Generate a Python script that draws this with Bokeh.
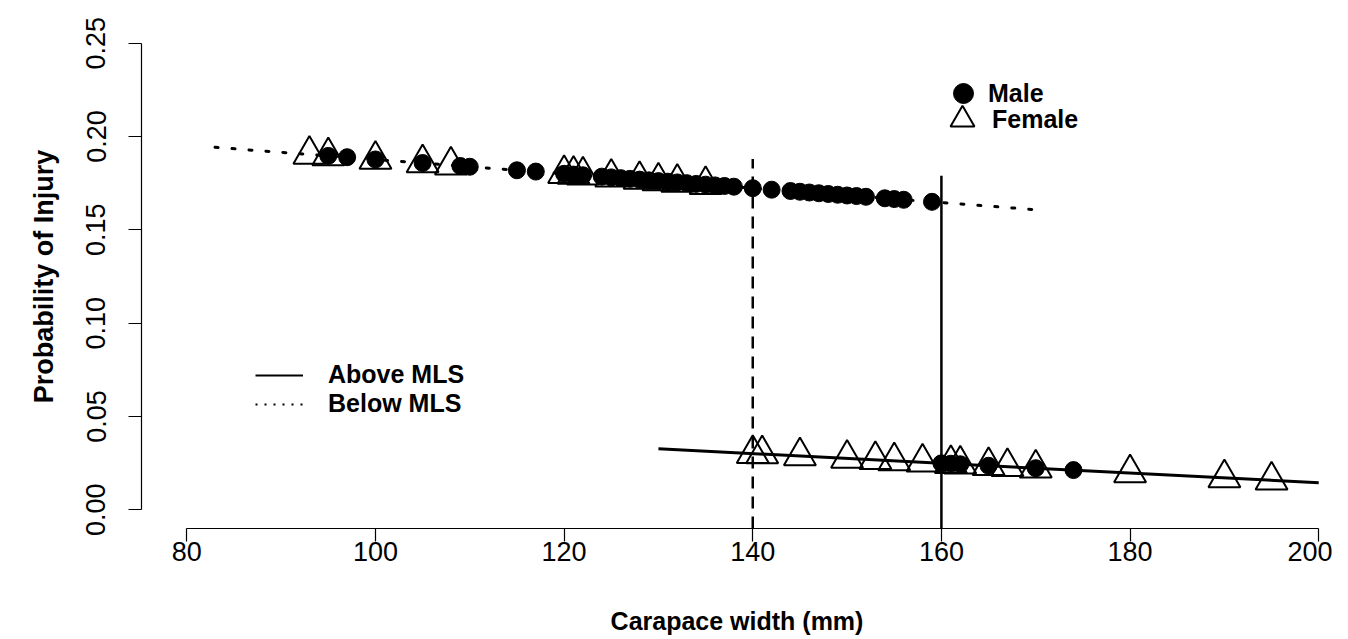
from bokeh.plotting import figure
from bokeh.models import Range1d, FixedTicker, Legend, LegendItem
from bokeh.embed import file_html
from bokeh.resources import INLINE

# ---------------- data ----------------
below_line_x = [83, 171]
below_line_y = [0.1942, 0.1604]
above_line_x = [130, 200]
above_line_y = [0.0327, 0.0145]

male_below_x = [95, 97, 100, 105, 109, 110, 115, 117, 120, 121, 122, 124, 125, 126,
                127, 128, 129, 130, 131, 132, 133, 134, 135, 136, 137, 138, 140, 142,
                144, 145, 146, 147, 148, 149, 150, 151, 152, 154, 155, 156, 159]
male_below_y = [0.1896, 0.1889, 0.1877, 0.1858, 0.1842, 0.1838, 0.1819, 0.1812, 0.1800,
                0.1796, 0.1792, 0.1785, 0.1781, 0.1777, 0.1773, 0.1769, 0.1765, 0.1761,
                0.1758, 0.1754, 0.1750, 0.1746, 0.1742, 0.1738, 0.1735, 0.1731, 0.1723,
                0.1715, 0.1708, 0.1704, 0.1700, 0.1696, 0.1692, 0.1688, 0.1684, 0.1681,
                0.1677, 0.1669, 0.1665, 0.1661, 0.1650]
male_above_x = [160, 161, 162, 165, 170, 174]
male_above_y = [0.0249, 0.0247, 0.0244, 0.0236, 0.0223, 0.0213]

female_below_x = [93, 95, 100, 105, 108, 120, 121, 122, 125, 128, 130, 132, 135]
female_below_y = [0.1904, 0.1896, 0.1877, 0.1858, 0.1846, 0.1800, 0.1796, 0.1792,
                  0.1781, 0.1769, 0.1761, 0.1754, 0.1742]
female_above_x = [140, 141, 145, 150, 153, 155, 158, 161, 162, 165, 167, 170, 180, 190, 195]
female_above_y = [0.0301, 0.0299, 0.0288, 0.0275, 0.0268, 0.0262, 0.0255, 0.0247,
                  0.0244, 0.0236, 0.0231, 0.0223, 0.0197, 0.0171, 0.0159]

mls_x = [140, 160]
mls_top = [0.188, 0.179]

x_ticks = [80, 100, 120, 140, 160, 180, 200]
y_ticks = [0.0, 0.05, 0.10, 0.15, 0.20, 0.25]
y_tick_labels = ["0.00", "0.05", "0.10", "0.15", "0.20", "0.25"]

series_labels = ["Male", "Female"]
line_labels = ["Above MLS", "Below MLS"]

# ---------------- figure ----------------
p = figure(width=1332, height=639, output_backend="svg", toolbar_location=None,
           x_range=Range1d(75.2, 201.46), y_range=Range1d(-0.01, 0.26),
           min_border_left=141, min_border_right=0, min_border_top=24,
           min_border_bottom=111)
p.grid.visible = False
p.outline_line_color = None
p.background_fill_color = "white"
p.border_fill_color = "white"

FONT = "Liberation Sans"

for ax in (p.xaxis[0], p.yaxis[0]):
    ax.axis_line_color = "black"
    ax.axis_line_width = 1.2
    ax.major_tick_line_color = "black"
    ax.major_tick_line_width = 1.2
    ax.major_tick_out = 13
    ax.major_tick_in = 0
    ax.minor_tick_out = 0
    ax.minor_tick_in = 0
    ax.major_label_text_font = FONT
    ax.major_label_text_font_size = "27px"
    ax.major_label_text_color = "black"
    ax.axis_label_text_font = FONT
    ax.axis_label_text_font_style = "bold"
    ax.axis_label_text_color = "black"

xa = p.xaxis[0]
xa.ticker = FixedTicker(ticks=x_ticks, minor_ticks=[])
xa.bounds = (x_ticks[0], x_ticks[-1])
xa.axis_label = "Carapace width (mm)"
xa.axis_label_text_font_size = "25px"
xa.major_label_standoff = 0
xa.axis_label_standoff = 43

ya = p.yaxis[0]
ya.ticker = FixedTicker(ticks=y_ticks, minor_ticks=[])
ya.bounds = (y_ticks[0], y_ticks[-1])
ya.major_label_overrides = {t: l for t, l in zip(y_ticks, y_tick_labels)}
ya.major_label_orientation = "vertical"
ya.axis_label = "Probability of Injury"
ya.axis_label_text_font_size = "27px"
ya.major_label_standoff = 23
ya.axis_label_standoff = 25

# points
r_male = p.scatter(male_below_x + male_above_x, male_below_y + male_above_y,
                   marker="circle", size=17, fill_color="black", line_color="black")
r_female = p.scatter(female_below_x + female_above_x, female_below_y + female_above_y,
                     marker="triangle", size=32, fill_color=None, line_color="black",
                     line_width=2)

# fitted lines
p.line(below_line_x, below_line_y, line_color="black", line_width=3,
       line_dash="3 14", line_cap="round")
p.line(above_line_x, above_line_y, line_color="black", line_width=3)

# MLS verticals
p.segment(x0=[mls_x[0]], y0=[p.y_range.start], x1=[mls_x[0]], y1=[mls_top[0]],
          line_color="black", line_width=2.5, line_dash="12 8")
p.segment(x0=[mls_x[1]], y0=[p.y_range.start], x1=[mls_x[1]], y1=[mls_top[1]],
          line_color="black", line_width=2.5)

# hidden renderers that only supply the legend's line styles
r_leg_above = p.line(above_line_x, above_line_y, line_color="black", line_width=2,
                     visible=False)
r_leg_below = p.line(below_line_x, below_line_y, line_color="black", line_width=2,
                     line_dash="2 7", visible=False)

def make_legend(items, loc, gw, gh, lh, standoff):
    return Legend(items=items, location=loc, glyph_width=gw, glyph_height=gh,
                  label_height=lh, label_standoff=standoff, spacing=0, padding=0,
                  margin=0, border_line_color=None, background_fill_alpha=0,
                  inactive_fill_alpha=0, click_policy="none",
                  label_text_font=FONT, label_text_font_style="bold",
                  label_text_font_size="25px", label_text_color="black")

p.add_layout(make_legend([LegendItem(label=series_labels[0], renderers=[r_male])],
                         (797, 410), 50, 50, 50, 0))
p.add_layout(make_legend([LegendItem(label=series_labels[1], renderers=[r_female])],
                         (791, 379), 60, 60, 60, 0))
p.add_layout(make_legend([LegendItem(label=line_labels[0], renderers=[r_leg_above]),
                          LegendItem(label=line_labels[1], renderers=[r_leg_below])],
                         (114, 110), 48, 28, 28, 25))

open("out.html", "w").write(file_html(p, INLINE))
